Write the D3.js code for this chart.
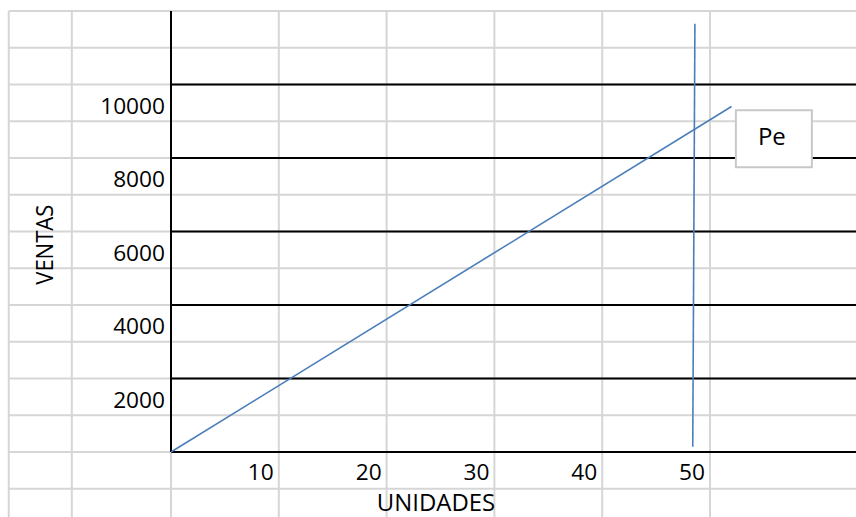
<!DOCTYPE html>
<html>
<head>
<meta charset="utf-8">
<script src="https://cdn.jsdelivr.net/npm/d3@7"></script>
<style>
  html, body { margin: 0; padding: 0; background: #ffffff; }
  svg { display: block; }
  text { font-family: "Open Sans", "Noto Sans", sans-serif; fill: #000; }
</style>
</head>
<body>
<svg id="chart" width="856" height="517"></svg>
<script>
// ---- data ----
const xTicks = [10, 20, 30, 40, 50];
const yTicks = [2000, 4000, 6000, 8000, 10000];
const xTitle = "UNIDADES";
const yTitle = "VENTAS";
const legendLabel = "Pe";
// sales line (units -> ventas)
const salesUnits = [0, 52];
const salesValues = [0, 9400];
// equilibrium marker (near-vertical line)
const peUnits = [48.6, 48.4];
const peValues = [11650, 140];
// spreadsheet grid (in chart units)
const sheetCols = [-15.05, -9.2, 0, 10, 20, 30, 40, 50];
const sheetRows = d3.range(-1000, 12001, 1000);
const majorRows = d3.range(0, 10001, 2000);

// ---- scales ----
const W = 856, H = 517;
const x = d3.scaleLinear().domain([0, 50]).range([171, 710]);
const y = d3.scaleLinear().domain([0, 12000]).range([452, 11]);

const svg = d3.select("#chart");
const gridColor = "#d6d6d6";

// spreadsheet gray rows
svg.append("g").selectAll("line").data(sheetRows).join("line")
  .attr("x1", x(sheetCols[0])).attr("x2", W)
  .attr("y1", d => y(d)).attr("y2", d => y(d))
  .attr("stroke", gridColor).attr("stroke-width", 2);

// spreadsheet gray columns
svg.append("g").selectAll("line").data(sheetCols).join("line")
  .attr("x1", d => x(d)).attr("x2", d => x(d))
  .attr("y1", y(12000)).attr("y2", H)
  .attr("stroke", gridColor).attr("stroke-width", 2);

// black major horizontal lines
svg.append("g").selectAll("line").data(majorRows).join("line")
  .attr("x1", x(0)).attr("x2", W)
  .attr("y1", d => y(d)).attr("y2", d => y(d))
  .attr("stroke", "#000").attr("stroke-width", 2);

// black vertical axis
svg.append("line")
  .attr("x1", x(0)).attr("x2", x(0))
  .attr("y1", y(12000)).attr("y2", y(0))
  .attr("stroke", "#000").attr("stroke-width", 2);

// y tick labels (sit in the cell below their line)
svg.append("g").selectAll("text").data(yTicks).join("text")
  .attr("text-anchor", "end")
  .attr("font-size", 21)
  .attr("transform", d => `translate(${x(0) - 6},${y(d) + 29}) scale(1.08,1)`)
  .text(d => d);

// x tick labels (right-aligned in their cell)
svg.append("g").selectAll("text").data(xTicks).join("text")
  .attr("text-anchor", "end")
  .attr("font-size", 21)
  .attr("transform", d => `translate(${x(d) - 5},480) scale(1.08,1)`)
  .text(d => d);

// axis titles
svg.append("text")
  .attr("text-anchor", "middle")
  .attr("font-size", 23)
  .attr("transform", `translate(436,511) scale(1.04,1)`)
  .text(xTitle);

svg.append("text")
  .attr("text-anchor", "middle")
  .attr("font-size", 22)
  .attr("transform", `translate(53,${y(5640)}) rotate(-90) scale(1,1.1)`)
  .text(yTitle);

// sales line
const line = d3.line().x(d => x(d[0])).y(d => y(d[1]));
svg.append("path")
  .datum(d3.zip(salesUnits, salesValues))
  .attr("d", line)
  .attr("fill", "none").attr("stroke", "#4a7ebb").attr("stroke-width", 1.6);

// equilibrium vertical line
svg.append("path")
  .datum(d3.zip(peUnits, peValues))
  .attr("d", line)
  .attr("fill", "none").attr("stroke", "#4a7ebb").attr("stroke-width", 1.6);

// label box
const bx = x(52.4), by = y(9300);
svg.append("rect")
  .attr("x", bx).attr("y", by)
  .attr("width", 76).attr("height", 57)
  .attr("fill", "#fff").attr("stroke", "#c8c8c8").attr("stroke-width", 2);
svg.append("text")
  .attr("x", bx + 36).attr("y", by + 35)
  .attr("text-anchor", "middle")
  .attr("font-size", 24)
  .text(legendLabel);
</script>
</body>
</html>
